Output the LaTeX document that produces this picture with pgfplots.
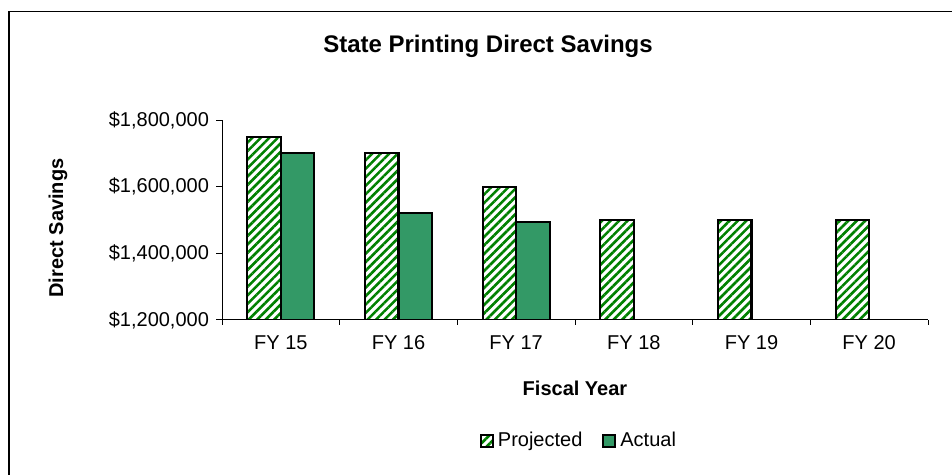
\documentclass[border=0pt]{standalone}
\usepackage{pgfplots}
\pgfplotsset{compat=1.18}
\usepackage{fontspec}
\setmainfont{Liberation Sans}
\usetikzlibrary{patterns.meta}
\definecolor{actgreen}{RGB}{51,153,102}
\definecolor{hatch}{RGB}{0,128,0}
\begin{document}
\begin{tikzpicture}
\begin{axis}[
  at={(111pt,77.5pt)}, anchor=south west,
  scale only axis, width=353pt, height=100pt,
  ybar=0pt, bar width=16.75pt,
  xmin=-0.5, xmax=5.5, ymin=1200000, ymax=1800000,
  axis x line*=bottom, axis y line*=left,
  xtick={0,...,5},
  xticklabels={FY 15,FY 16,FY 17,FY 18,FY 19,FY 20},
  major x tick style={draw=none},
  minor xtick={-0.5,0.5,1.5,2.5,3.5,4.5,5.5},
  ytick={1200000,1400000,1600000,1800000},
  yticklabels={{\$1,200,000},{\$1,400,000},{\$1,600,000},{\$1,800,000}},
  scaled y ticks=false,
  tick align=outside,
  major tick length=3pt, minor tick length=2.5pt,
  every tick/.style={black, line width=0.5pt},
  axis line style={black, line width=0.5pt},
  tick label style={font=\fontsize{10}{12}\selectfont},
  xticklabel style={yshift=-1pt, text height=7.2pt, text depth=2pt},
  legend style={at={(rel axis cs:0.507,-0.605)}, anchor=center, draw=none,
    font=\fontsize{10}{12}\selectfont,
    /tikz/every even column/.append style={column sep=8pt}},
  legend columns=2,
  legend image code/.code={\draw[#1, line width=1pt] (0pt,-3pt) rectangle (6pt,3pt);},
]
\addplot[draw=black, line width=1.1pt,
  pattern={Lines[angle=45,distance=3pt,line width=1.3pt]}, pattern color=hatch]
  coordinates {(0,1750000) (1,1700000) (2,1600000) (3,1500000) (4,1500000) (5,1500000)};
\addlegendentry{Projected}
\addplot[draw=black, line width=1.1pt, fill=actgreen]
  coordinates {(0,1700000) (1,1522000) (2,1495000)};
\addlegendentry{Actual}
\end{axis}
\node[anchor=base, font=\fontsize{12}{14}\selectfont\bfseries] at (244pt,211pt) {State Printing Direct Savings};
\node[rotate=90, font=\fontsize{10}{12}\selectfont\bfseries] at (29pt,123.5pt) {Direct Savings};
\node[font=\fontsize{10}{12}\selectfont\bfseries] at (287.5pt,43.5pt) {Fiscal Year};
\draw[line width=0.6pt, black] (4.5pt,-5pt) -- (4.5pt,231.75pt) -- (480pt,231.75pt);
\pgfresetboundingbox
\useasboundingbox (0,0) rectangle (476pt,237.5pt);
\end{tikzpicture}
\end{document}
